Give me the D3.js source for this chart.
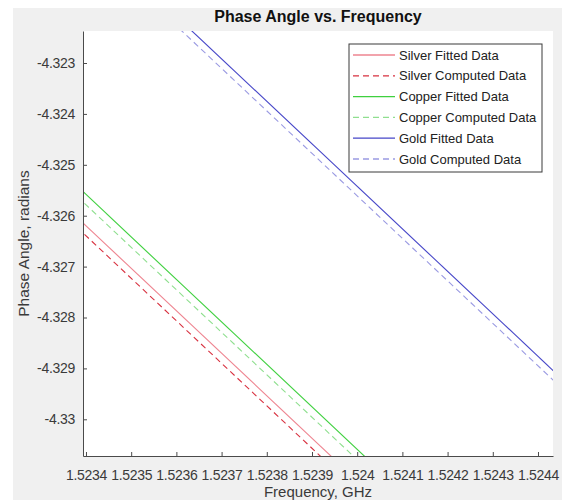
<!DOCTYPE html>
<html>
<head>
<meta charset="utf-8">
<script src="https://cdn.jsdelivr.net/npm/d3@7"></script>
<style>
  body { margin: 0; background: #fff; }
  text { font-family: "Liberation Sans", Arial, sans-serif; }
</style>
</head>
<body>
<div id="my_dataviz"></div>
<script>
// data (frequency in GHz, phase in radians)
var freq = [1.5233, 1.5245];
var silverFitted   = [-4.325363, -4.335381];
var silverComputed = [-4.325560, -4.335578];
var copperFitted   = [-4.324747, -4.334764];
var copperComputed = [-4.324951, -4.334968];
var goldFitted     = [-4.319580, -4.329597];
var goldComputed   = [-4.319766, -4.329784];

var xTicks = [1.5234, 1.5235, 1.5236, 1.5237, 1.5238, 1.5239, 1.524, 1.5241, 1.5242, 1.5243, 1.5244];
var xTickLabels = ["1.5234", "1.5235", "1.5236", "1.5237", "1.5238", "1.5239", "1.524", "1.5241", "1.5242", "1.5243", "1.5244"];
var yTicks = [-4.323, -4.324, -4.325, -4.326, -4.327, -4.328, -4.329, -4.33];
var yTickLabels = ["-4.323", "-4.324", "-4.325", "-4.326", "-4.327", "-4.328", "-4.329", "-4.33"];

var seriesNames = ["Silver Fitted Data", "Silver Computed Data", "Copper Fitted Data",
                   "Copper Computed Data", "Gold Fitted Data", "Gold Computed Data"];

// series styles
var series = [
  {name: seriesNames[0], values: silverFitted,   color: "#ee8490", dash: null},
  {name: seriesNames[1], values: silverComputed, color: "#d8303f", dash: "6,4"},
  {name: seriesNames[2], values: copperFitted,   color: "#3fd03f", dash: null},
  {name: seriesNames[3], values: copperComputed, color: "#8fdf8f", dash: "6,4"},
  {name: seriesNames[4], values: goldFitted,     color: "#4646c8", dash: null},
  {name: seriesNames[5], values: goldComputed,   color: "#9a9ae2", dash: "6,4"}
];

// set the dimensions and margins of the graph
var W = 562, H = 500;
var margin = {top: 31, right: 9, bottom: 44, left: 83},
    width = W - margin.left - margin.right,
    height = H - margin.top - margin.bottom;

var svg0 = d3.select("#my_dataviz")
  .append("svg")
    .attr("width", W)
    .attr("height", H);

// figure background
svg0.append("rect")
    .attr("x", 13).attr("y", 8)
    .attr("width", W - 13).attr("height", H - 8)
    .attr("fill", "#f0f0f0");

var svg = svg0.append("g")
    .attr("transform", "translate(" + margin.left + "," + margin.top + ")");

svg.append("rect")
    .attr("width", width).attr("height", height)
    .attr("fill", "#fff");

// Scales
var x = d3.scaleLinear()
    .domain([1.5233934, 1.5244332])
    .range([0, width]);
var y = d3.scaleLinear()
    .domain([-4.330721, -4.322371])
    .range([height, 0]);

svg.append("clipPath").attr("id", "clip")
  .append("rect").attr("width", width).attr("height", height);

var line = d3.line()
    .x(function(d, i) { return x(freq[i]); })
    .y(function(d) { return y(d); });

svg.append("g")
    .attr("clip-path", "url(#clip)")
  .selectAll("path")
  .data(series)
  .enter()
  .append("path")
    .attr("d", function(d) { return line(d.values); })
    .attr("fill", "none")
    .attr("stroke", function(d) { return d.color; })
    .attr("stroke-width", 1.1)
    .attr("stroke-dasharray", function(d) { return d.dash; });

// Axes
var xAxis = svg.append("g")
    .attr("transform", "translate(0," + height + ")")
    .call(d3.axisBottom(x)
      .tickValues(xTicks)
      .tickFormat(function(d, i) { return xTickLabels[i]; })
      .tickSizeInner(-4)
      .tickSizeOuter(0)
      .tickPadding(14));
var yAxis = svg.append("g")
    .call(d3.axisLeft(y)
      .tickValues(yTicks)
      .tickFormat(function(d, i) { return yTickLabels[i]; })
      .tickSizeInner(-4)
      .tickSizeOuter(0)
      .tickPadding(8));

[xAxis, yAxis].forEach(function(a) {
  a.select(".domain").attr("stroke", "#4a4a4a");
  a.selectAll(".tick line").attr("stroke", "#4a4a4a");
  a.selectAll(".tick text")
    .attr("fill", "#3a3a3a")
    .style("font-size", "14px")
    .style("letter-spacing", "-0.3px")
    .style("font-family", "'Liberation Sans', Arial, sans-serif");
});

// Title and labels
svg0.append("text")
    .attr("x", margin.left + width / 2)
    .attr("y", 22)
    .attr("text-anchor", "middle")
    .style("font-size", "16px")
    .style("font-weight", "bold")
    .attr("fill", "#111")
    .text("Phase Angle vs. Frequency");

svg0.append("text")
    .attr("x", margin.left + width / 2)
    .attr("y", 497)
    .attr("text-anchor", "middle")
    .style("font-size", "15px")
    .attr("fill", "#3a3a3a")
    .text("Frequency, GHz");

svg0.append("text")
    .attr("transform", "translate(29," + (margin.top + height / 2) + ") rotate(-90)")
    .attr("text-anchor", "middle")
    .style("font-size", "15.5px")
    .attr("fill", "#3a3a3a")
    .text("Phase Angle, radians");

// Legend
var legend = svg0.append("g").attr("transform", "translate(349,44)");
legend.append("rect")
    .attr("width", 193).attr("height", 128)
    .attr("fill", "#fff")
    .attr("stroke", "#3a3a3a")
    .attr("stroke-width", 1);

var rows = legend.selectAll("g.row")
  .data(series)
  .enter()
  .append("g")
    .attr("class", "row")
    .attr("transform", function(d, i) { return "translate(0," + (11 + i * 20.8) + ")"; });
rows.append("line")
    .attr("x1", 4).attr("x2", 46)
    .attr("stroke", function(d) { return d.color; })
    .attr("stroke-width", 1.3)
    .attr("stroke-dasharray", function(d) { return d.dash; });
rows.append("text")
    .attr("x", 50)
    .attr("dy", "0.35em")
    .style("font-size", "13px")
    .attr("fill", "#222")
    .text(function(d) { return d.name; });
</script>
</body>
</html>
